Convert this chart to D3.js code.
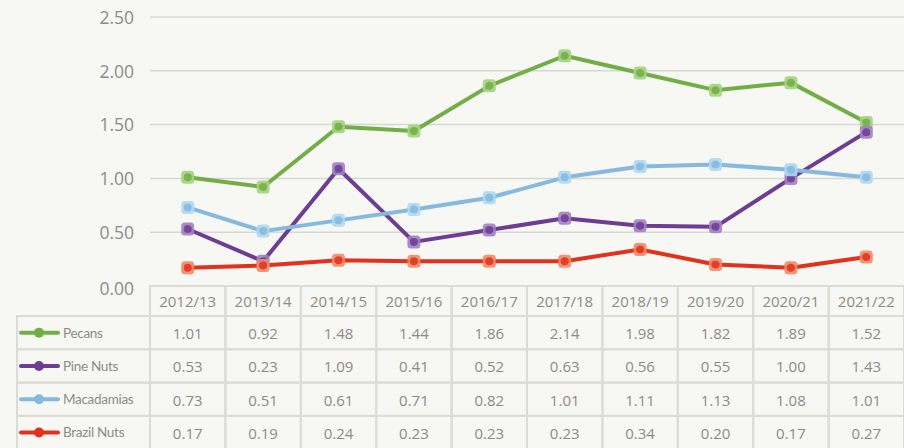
<!DOCTYPE html>
<html><head><meta charset="utf-8">
<script src="https://cdn.jsdelivr.net/npm/d3@7/dist/d3.min.js"></script>
<style>
html,body{margin:0;padding:0;background:#f7f7f3;}
svg{display:block;font-family:"Open Sans",Lato,sans-serif;}
</style></head>
<body><svg id="c" width="904" height="448"></svg>
<script>
const categories = ["2012/13","2013/14","2014/15","2015/16","2016/17","2017/18","2018/19","2019/20","2020/21","2021/22"];
const seriesNames = ["Pecans","Pine Nuts","Macadamias","Brazil Nuts"];
const pecans = [1.01,0.92,1.48,1.44,1.86,2.14,1.98,1.82,1.89,1.52];
const pineNuts = [0.53,0.23,1.09,0.41,0.52,0.63,0.56,0.55,1.00,1.43];
const macadamias = [0.73,0.51,0.61,0.71,0.82,1.01,1.11,1.13,1.08,1.01];
const brazilNuts = [0.17,0.19,0.24,0.23,0.23,0.23,0.34,0.20,0.17,0.27];
const yTicks = [0,0.5,1.0,1.5,2.0,2.5];
const colors = ["#72ae46","#6c3d93","#86b9df","#e2311d"];
const markerFill = ["#a3d37f","#a27fc4","#aed8f0","#f08a66"];

const series = [pecans,pineNuts,macadamias,brazilNuts].map((v,i)=>({name:seriesNames[i],values:v,color:colors[i],mfill:markerFill[i]}));

const svg = d3.select("#c");
const left = 150, right = 904, top0 = 17, zeroY = 286;
const x = d3.scaleBand().domain(categories).range([left,right]).padding(0);
const y = d3.scaleLinear().domain([0,2.5]).range([zeroY, top0]);

svg.append("g").selectAll("line").data(yTicks.filter(d=>d>0)).join("line")
  .attr("x1",left).attr("x2",right).attr("y1",d=>y(d)).attr("y2",d=>y(d))
  .attr("stroke","#d8d8d3").attr("stroke-width",1.5);

const yAxis = d3.axisLeft(y).tickValues(yTicks).tickFormat(d3.format(".2f")).tickSize(0).tickPadding(0);
const ga = svg.append("g").attr("transform",`translate(134,0)`).call(yAxis);
ga.select(".domain").remove();
ga.selectAll("text").attr("fill","#8c8c87").style("font-size","17.5px").style("font-family","'Open Sans', sans-serif").attr("dy","0.36em");
ga.selectAll(".tick").filter(d=>d===0).select("text").attr("dy","0.5em");

const line = d3.line().x((d,i)=>x(categories[i])+x.bandwidth()/2).y(d=>y(d));
series.forEach(s=>{
  svg.append("path").datum(s.values).attr("d",line).attr("fill","none")
    .attr("stroke",s.color).attr("stroke-width",4).attr("stroke-linejoin","round");
});
series.forEach(s=>{
  const g = svg.append("g");
  g.selectAll("rect").data(s.values).join("rect")
    .attr("x",(d,i)=>x(categories[i])+x.bandwidth()/2-6.5).attr("y",d=>y(d)-6.5)
    .attr("width",13).attr("height",13).attr("rx",3.5)
    .attr("fill",s.mfill).attr("opacity",0.9);
  g.selectAll("circle").data(s.values).join("circle")
    .attr("cx",(d,i)=>x(categories[i])+x.bandwidth()/2).attr("cy",d=>y(d))
    .attr("r",4).attr("fill",s.color).attr("opacity",0.85);
});

const rowH = 33.3, headH = 30;
const legendLeft = 17;
const tg = svg.append("g");
const bc = "#dcdcd7";
const fmt = d3.format(".2f");
categories.forEach((c,i)=>{
  tg.append("rect").attr("x",x(c)).attr("y",zeroY).attr("width",x.bandwidth()).attr("height",headH)
    .attr("fill","none").attr("stroke",bc).attr("stroke-width",2);
  tg.append("text").attr("x",x(c)+x.bandwidth()/2).attr("y",zeroY+headH/2+1).attr("dy","0.36em")
    .attr("text-anchor","middle").attr("fill","#8c8c87").style("font-size","15px").text(c);
});
series.forEach((s,r)=>{
  const ry = zeroY+headH+r*rowH;
  tg.append("rect").attr("x",legendLeft).attr("y",ry).attr("width",left-legendLeft).attr("height",rowH)
    .attr("fill","none").attr("stroke",bc).attr("stroke-width",2);
  const cy = ry+rowH/2;
  tg.append("line").attr("x1",21).attr("x2",58).attr("y1",cy).attr("y2",cy)
    .attr("stroke",s.color).attr("stroke-width",4).attr("stroke-linecap","round");
  tg.append("circle").attr("cx",39).attr("cy",cy).attr("r",5).attr("fill",s.color);
  tg.append("text").attr("x",63).attr("y",cy).attr("dy","0.36em").attr("fill","#8c8c87")
    .style("font-family","Lato, sans-serif")
    .style("font-size","13.5px").style("letter-spacing","-0.3px").text(s.name);
  s.values.forEach((v,i)=>{
    tg.append("rect").attr("x",x(categories[i])).attr("y",ry).attr("width",x.bandwidth()).attr("height",rowH)
      .attr("fill","none").attr("stroke",bc).attr("stroke-width",2);
    tg.append("text").attr("x",x(categories[i])+x.bandwidth()/2).attr("y",cy+1).attr("dy","0.36em")
      .attr("text-anchor","middle").attr("fill","#8c8c87").style("font-size","15px").text(fmt(v));
  });
});
</script></body></html>
